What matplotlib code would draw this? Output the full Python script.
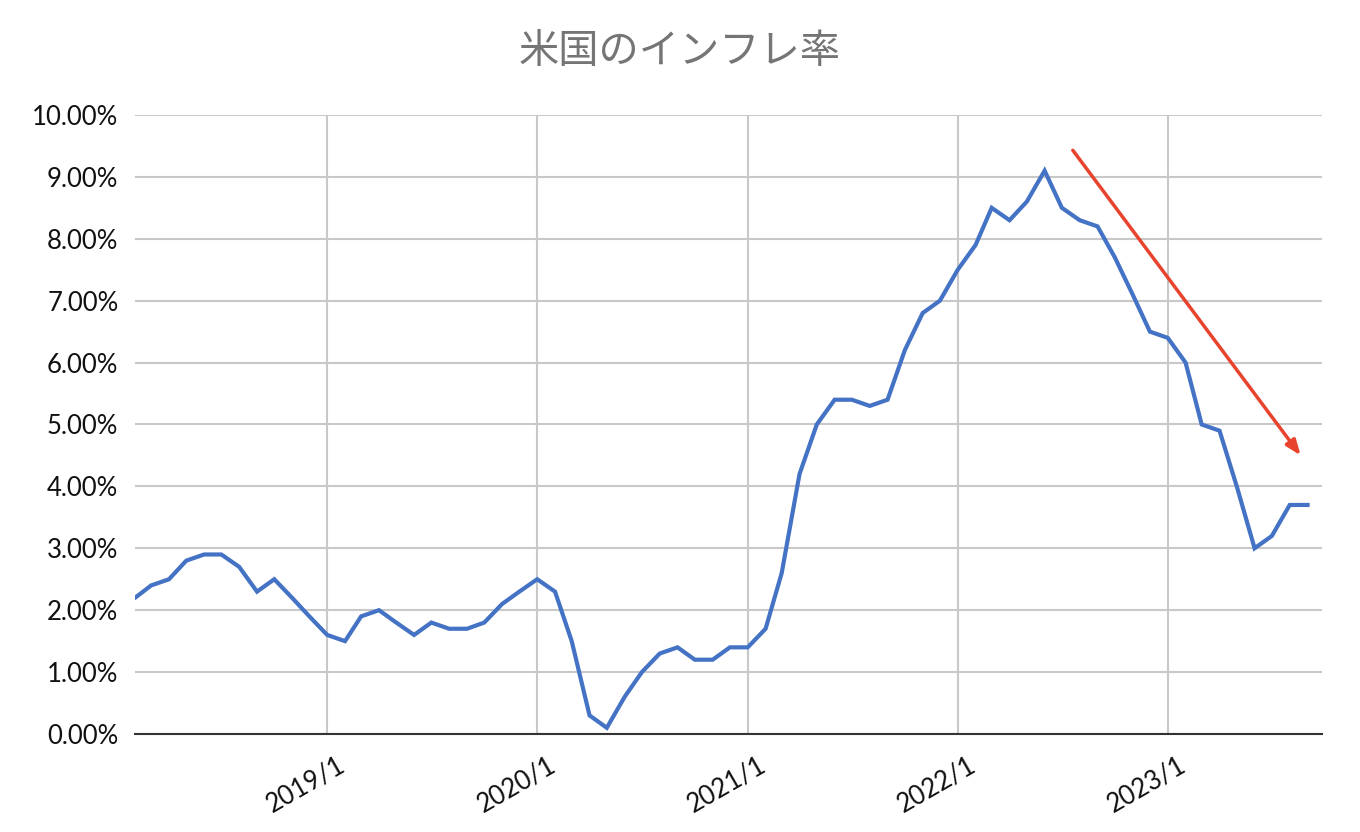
import numpy as np
import pandas as pd
import matplotlib
matplotlib.use('Agg')
import matplotlib.pyplot as plt
import matplotlib.transforms as mtransforms
from matplotlib.ticker import FuncFormatter

plt.rcParams['font.family'] = ['Lato', 'Noto Sans CJK JP', 'DejaVu Sans']

# US CPI year-over-year, monthly from 2018/1
start_month = '2018-01-01'
cpi = [2.1, 2.2, 2.4, 2.5, 2.8, 2.9, 2.9, 2.7, 2.3, 2.5, 2.2, 1.9,
       1.6, 1.5, 1.9, 2.0, 1.8, 1.6, 1.8, 1.7, 1.7, 1.8, 2.1, 2.3,
       2.5, 2.3, 1.5, 0.3, 0.1, 0.6, 1.0, 1.3, 1.4, 1.2, 1.2, 1.4,
       1.4, 1.7, 2.6, 4.2, 5.0, 5.4, 5.4, 5.3, 5.4, 6.2, 6.8, 7.0,
       7.5, 7.9, 8.5, 8.3, 8.6, 9.1, 8.5, 8.3, 8.2, 7.7, 7.1, 6.5,
       6.4, 6.0, 5.0, 4.9, 4.0, 3.0, 3.2, 3.7, 3.7]
dates = pd.date_range(start_month, periods=len(cpi), freq='MS')
year_ticks = pd.to_datetime(['2019-01-01', '2020-01-01', '2021-01-01', '2022-01-01', '2023-01-01'])
tick_labels = ['2019/1', '2020/1', '2021/1', '2022/1', '2023/1']

# trend arrow (start, end)
arrow_dates = pd.to_datetime(['2022-07-20', '2023-08-20'])
arrow_vals = [9.43, 4.5]

fig = plt.figure(figsize=(13.6, 8.32), dpi=100)
ax = fig.add_axes([0.0993, 0.1178, 0.8727, 0.744])

ax.plot(dates, cpi, color='#4472c4', linewidth=3, solid_joinstyle='miter', zorder=3)

ax.annotate('', xy=(arrow_dates[1], arrow_vals[1]), xytext=(arrow_dates[0], arrow_vals[0]),
            arrowprops=dict(arrowstyle='-|>,head_length=0.9,head_width=0.35',
                            color='#e8432d', linewidth=2.5, shrinkA=0, shrinkB=0),
            zorder=4)

ax.set_xlim(pd.Timestamp('2018-02-01'), pd.Timestamp('2023-09-26'))
ax.set_ylim(0, 10)
ax.set_yticks(np.arange(0, 11, 1))
ax.yaxis.set_major_formatter(FuncFormatter(lambda v, p: f'{v:.2f}%'))
ax.set_xticks(year_ticks)
ax.set_xticklabels(tick_labels, rotation=30, ha='right', rotation_mode='anchor')

ax.grid(True, color='#c8c8c8', linewidth=1.5, zorder=0)
ax.set_axisbelow(True)
for s in ['top', 'right', 'left']:
    ax.spines[s].set_visible(False)
ax.spines['bottom'].set_color('#333333')
ax.spines['bottom'].set_linewidth(1.5)
ax.tick_params(axis='both', length=0, labelsize=18.5, colors='#111111')
ax.tick_params(axis='y', pad=12)
ax.tick_params(axis='x', pad=13)

# shift the rotated date labels a little to the right
offset = mtransforms.ScaledTranslation(10 / 100, 0, fig.dpi_scale_trans)
for lbl in ax.get_xticklabels():
    lbl.set_transform(lbl.get_transform() + offset)

fig.text(0.5, 0.9375, '米国のインフレ率', ha='center', va='center', fontsize=29,
         color='#757575', family=['Noto Sans CJK JP', 'DejaVu Sans'])

fig.savefig('out.png', dpi=100)
